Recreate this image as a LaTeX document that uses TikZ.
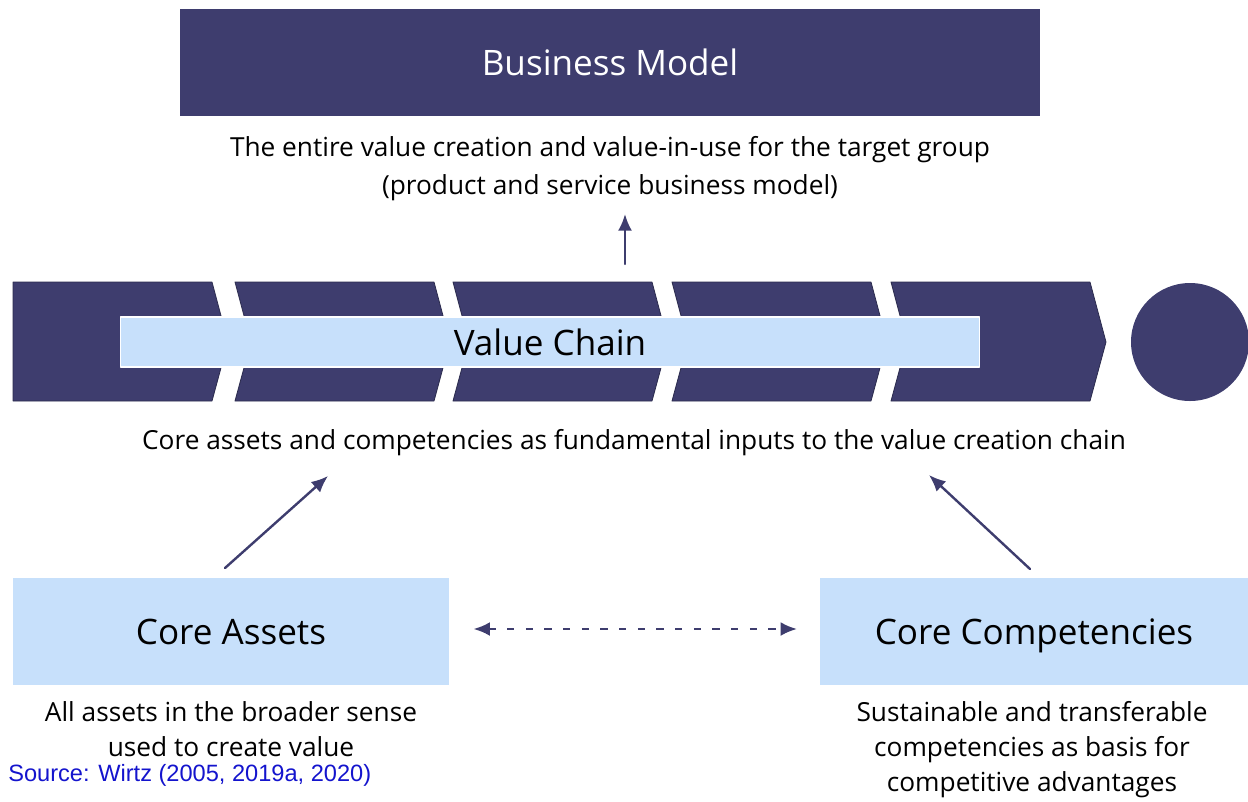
\documentclass[tikz,border=0pt]{standalone}
\usepackage{fontspec}
\setmainfont{Open Sans}
\newfontfamily\srcfont{Liberation Sans}
\usetikzlibrary{arrows.meta, calc}
\definecolor{navy}{RGB}{62,61,110}
\definecolor{lightblue}{RGB}{199,224,251}
\definecolor{srcblue}{RGB}{20,20,205}
\tikzset{
	chev/.style={fill=navy, draw=navy!70!black, line width=0.6pt},
	bigtext/.style={font=\fontsize{26.3}{31}\selectfont},
	bluebox/.style={fill=lightblue, draw=none, minimum width=#1*0.75pt, minimum height=107*0.75pt, bigtext, inner sep=0pt, text height=20pt, text depth=0pt},
	desc/.style={align=center, font=\fontsize{19.7}{26.3}\selectfont, inner sep=0pt},
	flow/.style={->, navy, line width=1.8pt}
}

\begin{document}
	\begin{tikzpicture}[x=0.75pt, y=-0.75pt, >={Latex[length=12.5pt, width=10.5pt]}, line cap=round, line join=round]
		
		\useasboundingbox (0,0) rectangle (1248,801);
		
		%========================
		% Top: business model
		%========================
		\node[fill=navy, text=white, minimum width=860*0.75pt, minimum height=107*0.75pt, inner sep=0pt, bigtext] (bm) at (610,62) {Business Model};
		\node[desc, font=\fontsize{19.7}{28.5}\selectfont] (bmtext) at (610,169) {The entire value creation and value-in-use for the target group\\(product and service business model)};
		
		%========================
		% Middle: value chain
		%========================
		% first chevron (flat left side)
		\draw[chev] (13,282) -- (212,282) -- (228,342) -- (212,401) -- (13,401) -- cycle;
		% remaining chevrons
		\foreach \x in {235,453,672,891}
		\draw[chev] (\x,282) -- (\x+199,282) -- (\x+215,342) -- (\x+199,401) -- (\x,401) -- (\x+16,342) -- cycle;
		% end circle
		\fill[navy] (1190,342) circle (59*0.75pt);
		
		\node[fill=lightblue, draw=white, line width=1pt, minimum width=859*0.75pt, minimum height=50*0.75pt, inner sep=0pt, bigtext] (vc) at (550,342) {Value Chain};
		\node[desc] (vctext) at (634,443) {Core assets and competencies as fundamental inputs to the value creation chain};
		
		%========================
		% Bottom: assets and competencies
		%========================
		\node[bluebox=436] (ca) at (231,631) {Core Assets};
		\node[bluebox=429] (cc) at (1034,631) {Core Competencies};
		\node[desc] (catext) at (231,729) {All assets in the broader sense\\used to create value};
		\node[desc] (cctext) at (1032,750) {Sustainable and transferable\\competencies as basis for\\competitive advantages};
		\node[text=srcblue, font=\srcfont\fontsize{17.7}{20}\selectfont, anchor=west, inner sep=0pt] (src) at (8,775) {Source: Wirtz (2005, 2019a, 2020)};
		
		% arrow ends
		\coordinate (bmin) at (625,214);
		\coordinate (bmout) at (625,264);
		\coordinate (cain) at (328,476);
		\coordinate (caout) at (225,568);
		\coordinate (ccin) at (929,475);
		\coordinate (ccout) at (1030,569);
		
		% arrows
		\draw[flow] (bmout) -- (bmin);
		\draw[flow] (caout) -- (cain);
		\draw[flow] (ccout) -- (ccin);
		\draw[<->, navy, line width=2.2pt, dash pattern=on 5.5pt off 8.5pt, line cap=butt] ($(ca.east)+(24,-2)$) -- ($(cc.west)+(-22,-2)$);
		
	\end{tikzpicture}
\end{document}
